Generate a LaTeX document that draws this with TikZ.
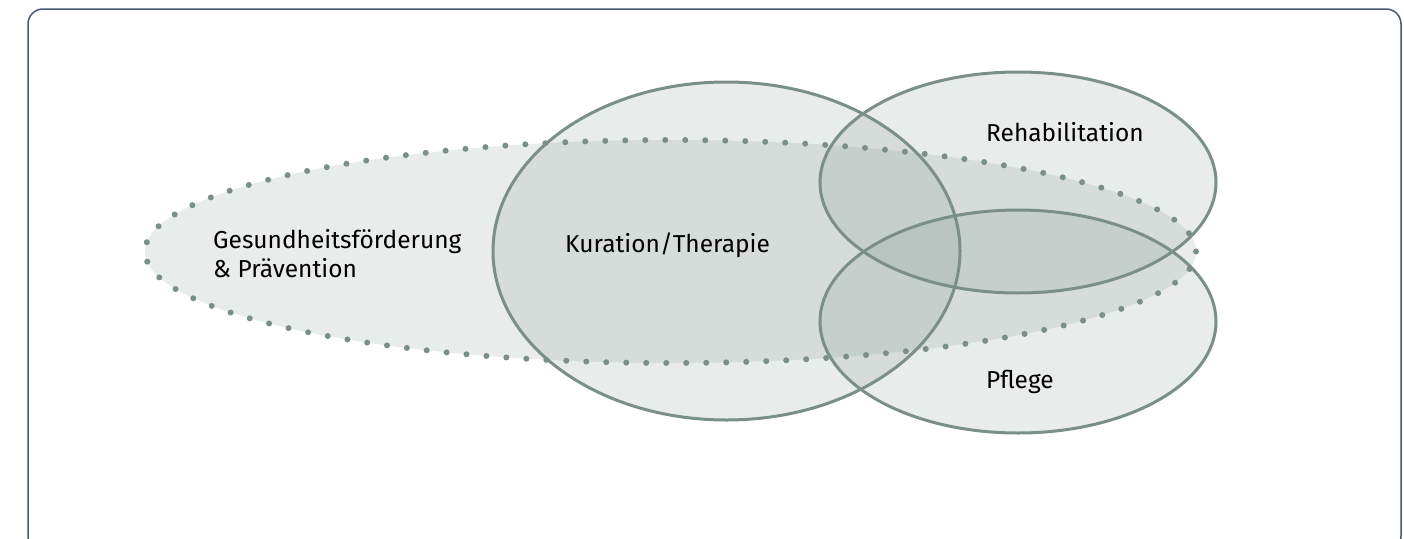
\documentclass[tikz,border=0pt]{standalone}
\usepackage{fontspec}
\setmainfont{Fira Sans}
\usetikzlibrary{shapes.geometric}
\definecolor{edgec}{HTML}{7A8F88}
\definecolor{fillc}{HTML}{7F958E}
\definecolor{framec}{HTML}{4A5878}
\tikzset{
  ell/.style={ellipse, inner sep=0pt, outer sep=0pt, fill=fillc, fill opacity=0.18},
  ring/.style={draw=edgec, line width=3pt},
  dotring/.style={draw=edgec, line width=6pt, line cap=round, dash pattern=on 0pt off 20pt},
  lbl/.style={inner sep=0pt, font=\fontsize{24.5}{29}\selectfont, text=black, align=left},
}
\begin{document}
\begin{tikzpicture}[x=1pt,y=-1pt]
\useasboundingbox (0,0) rectangle (1404,538);
\clip (0,0) rectangle (1404,538);
\draw[framec, line width=1.5pt, rounded corners=15pt] (28,9) rectangle (1401,551);
% fills
\node[ell, minimum width=1051pt, minimum height=223pt] (gp) at (670.5,251.5) {};
\node[ell, minimum width=467pt, minimum height=338pt] (kur) at (726.5,251) {};
\node[ell, minimum width=396pt, minimum height=221pt] (reh) at (1018,182.5) {};
\node[ell, minimum width=396pt, minimum height=223pt] (pfl) at (1018,321.5) {};
% outlines
\draw[ring] (kur.center) ellipse [x radius=233.5pt, y radius=169pt];
\draw[ring] (reh.center) ellipse [x radius=198pt, y radius=110.5pt];
\draw[ring] (pfl.center) ellipse [x radius=198pt, y radius=111.5pt];
\draw[dotring] (gp.center) ellipse [x radius=525.5pt, y radius=111.5pt];
% labels
\node[lbl, anchor=base west] (tgp) at (213,277) {Gesundheitsförderung\\\& Prävention};
\node[lbl, anchor=base west] (tkur) at (565,252) {Kuration/Therapie};
\node[lbl, anchor=base west] (treh) at (986,141) {Rehabilitation};
\node[lbl, anchor=base west] (tpfl) at (986,388) {Pflege};
\end{tikzpicture}
\end{document}
